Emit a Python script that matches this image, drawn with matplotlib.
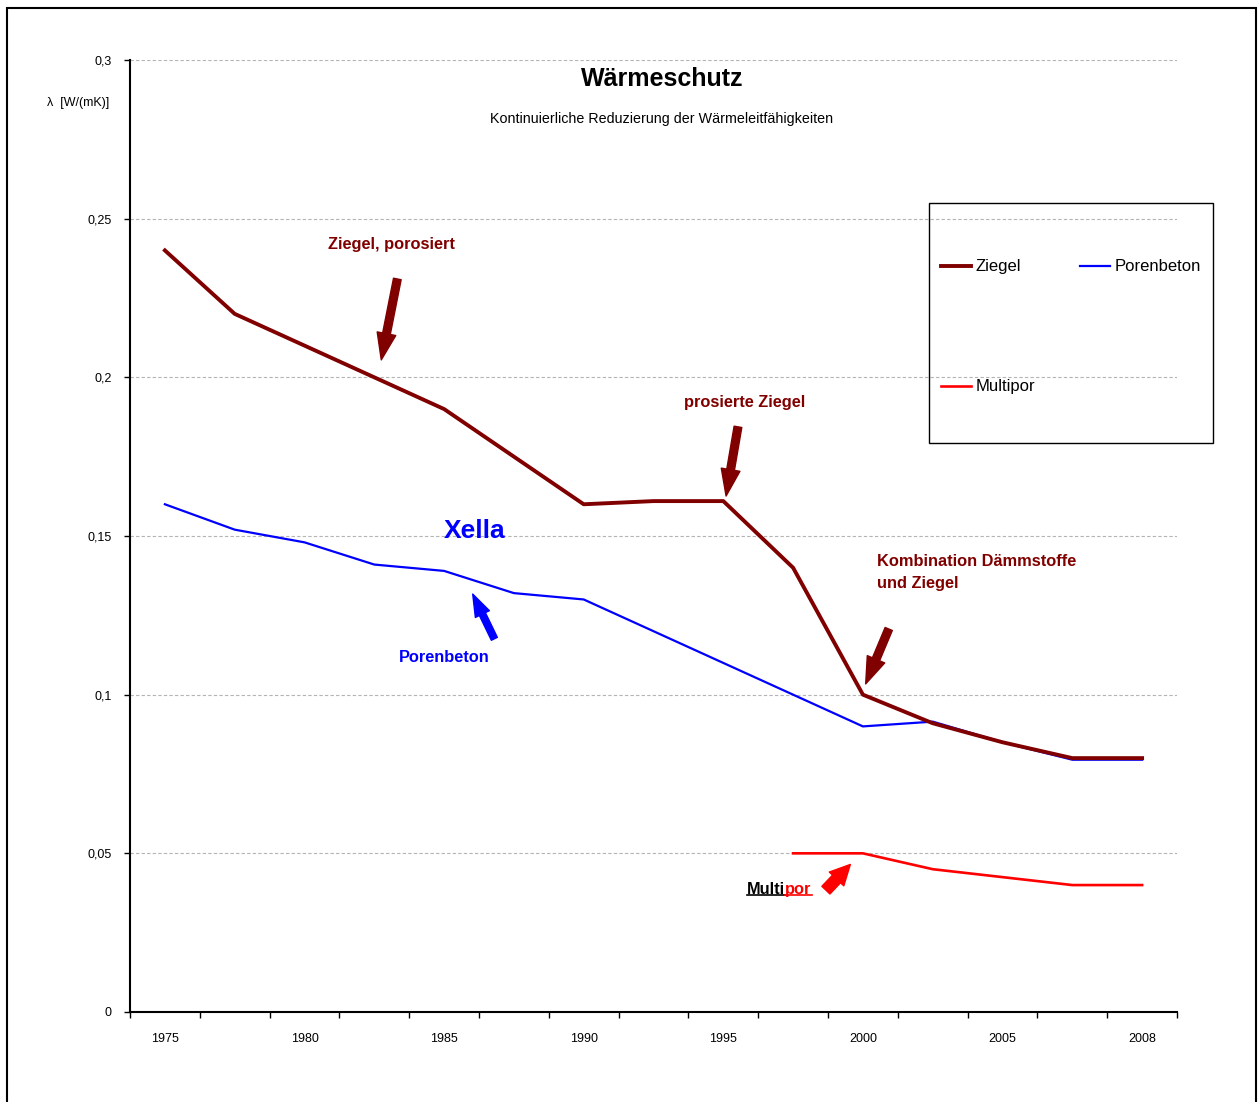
import numpy as np
import matplotlib
matplotlib.use("Agg")
import matplotlib.pyplot as plt
from matplotlib.patches import Rectangle
from matplotlib.lines import Line2D

plt.rcParams['font.family'] = ['Liberation Sans', 'DejaVu Sans']

# data
jahre = ['1975', '', '1980', '', '1985', '', '1990', '', '1995', '', '2000', '', '2005', '', '2008']
ziegel = [0.24, 0.22, 0.21, 0.20, 0.19, 0.175, 0.16, 0.161, 0.161, 0.14, 0.10, 0.091, 0.085, 0.08, 0.08]
porenbeton = [0.16, 0.152, 0.148, 0.141, 0.139, 0.132, 0.130, 0.120, 0.110, 0.100, 0.090, 0.0915, 0.085, 0.0795, 0.0795]
multipor = [np.nan] * 9 + [0.05, 0.05, 0.045, 0.0425, 0.04, 0.04]

DR = '#800000'
W, H = 1258, 1102

fig = plt.figure(figsize=(W / 100, H / 100), dpi=100)
ax = fig.add_axes([130 / W, 1 - 1012 / H, 1047 / W, 952 / H])

x = np.arange(len(jahre))
ax.plot(x, porenbeton, color='#0000ff', lw=1.6, label='Porenbeton', zorder=3)
ax.plot(x, multipor, color='#ff0000', lw=1.9, label='Multipor', zorder=3)
ax.plot(x, ziegel, color=DR, lw=2.8, label='Ziegel', zorder=4)

ax.set_xlim(-0.5, len(jahre) - 0.5)
ax.set_ylim(0, 0.3)
ax.set_xticks(x[::2])
ax.set_xticklabels(jahre[::2], fontsize=9)
ax.set_xticks(np.arange(len(jahre) + 1) - 0.5, minor=True)
ax.tick_params(axis='x', which='major', length=0, pad=15)
ax.tick_params(axis='x', which='minor', length=4, width=1, direction='out')
ax.set_yticks([0, 0.05, 0.1, 0.15, 0.2, 0.25, 0.3])
ax.set_yticklabels(['0', '0,05', '0,1', '0,15', '0,2', '0,25', '0,3'], fontsize=9)
ax.tick_params(axis='y', length=4, width=1, direction='out', pad=9)
ax.grid(axis='y', color='#b4b4b4', lw=0.8, linestyle=(0, (3, 2)))
ax.set_axisbelow(True)
for s in ['top', 'right']:
    ax.spines[s].set_visible(False)
for s in ['left', 'bottom']:
    ax.spines[s].set_linewidth(1.5)

# titles
fig.text(662 / W, 1 - 79 / H, 'Wärmeschutz', fontsize=18, fontweight='bold', ha='center', va='center')
fig.text(662 / W, 1 - 119 / H, 'Kontinuierliche Reduzierung der Wärmeleitfähigkeiten', fontsize=10.3,
         ha='center', va='center')
fig.text(78 / W, 1 - 103 / H, 'λ  [W/(mK)]', fontsize=9, ha='center', va='center')

# legend (column-major: Ziegel/Multipor left, Porenbeton right)
handles, labels = ax.get_legend_handles_labels()
order = [2, 1, 0]
leg = fig.legend([handles[i] for i in order], [labels[i] for i in order], ncol=2, frameon=False,
                 loc='upper left', bbox_to_anchor=(933 / W, 1 - 251 / H), fontsize=12,
                 borderpad=0, handlelength=1.8, handletextpad=0.25, columnspacing=2.7,
                 labelspacing=6.3)
fig.patches.append(Rectangle((929 / W, 1 - 443 / H), 284 / W, 240 / H, transform=fig.transFigure,
                             fill=False, ec='black', lw=1.0))

# annotations
def pfeil(tail, head, color, mscale, tw, hw, hl):
    ax.annotate('', xy=head, xytext=tail,
                arrowprops=dict(arrowstyle=f'simple,head_length={hl},head_width={hw},tail_width={tw}',
                                color=color, shrinkA=0, shrinkB=0, mutation_scale=mscale), zorder=5)

ax.text(3.25, 0.242, 'Ziegel, porosiert', color=DR, fontsize=11.8, fontweight='bold', ha='center', va='center')
pfeil((3.33, 0.231), (3.10, 0.2055), DR, 16, 0.35, 0.85, 1.2)

ax.text(8.30, 0.192, 'prosierte Ziegel', color=DR, fontsize=11.8, fontweight='bold', ha='center', va='center')
pfeil((8.21, 0.1844), (8.04, 0.1626), DR, 16, 0.35, 0.85, 1.2)

ax.text(4.44, 0.1516, 'Xella', color='#0000ff', fontsize=19, fontweight='bold', ha='center', va='center')
ax.text(4.0, 0.1116, 'Porenbeton', color='#0000ff', fontsize=11.8, fontweight='bold', ha='center', va='center')
pfeil((4.72, 0.1176), (4.41, 0.1317), '#0000ff', 16, 0.3, 0.7, 1.0)

ax.text(10.2, 0.1385, 'Kombination Dämmstoffe\nund Ziegel', color=DR, fontsize=11.8, fontweight='bold',
        ha='left', va='center', linespacing=1.6)
pfeil((10.37, 0.1207), (10.04, 0.1034), DR, 16, 0.35, 0.85, 1.2)

t1 = ax.text(8.34, 0.0372, 'Multi', color='black', fontsize=11.8, fontweight='bold', ha='left', va='baseline')
t2 = ax.annotate('por', xy=(1, 0), xycoords=t1, color='#ff0000', fontsize=11.8, fontweight='bold',
                 ha='left', va='bottom')
pfeil((9.47, 0.0384), (9.82, 0.0465), '#ff0000', 16, 0.5, 0.9, 0.9)

fig.canvas.draw()
r = fig.canvas.get_renderer()
inv = fig.transFigure.inverted()
for t, c in [(t1, 'black'), (t2, '#ff0000')]:
    bb = t.get_window_extent(r).transformed(inv)
    yy = bb.y0 + 1.5 / H
    fig.add_artist(Line2D([bb.x0, bb.x1], [yy, yy], color=c, lw=1.2, transform=fig.transFigure))

# outer frame
fig.patches.append(Rectangle((7 / W, -0.05), 1249 / W, 1.05 - 8 / H, transform=fig.transFigure,
                             fill=False, ec='black', lw=1.5))

fig.savefig('out.png', dpi=100)
